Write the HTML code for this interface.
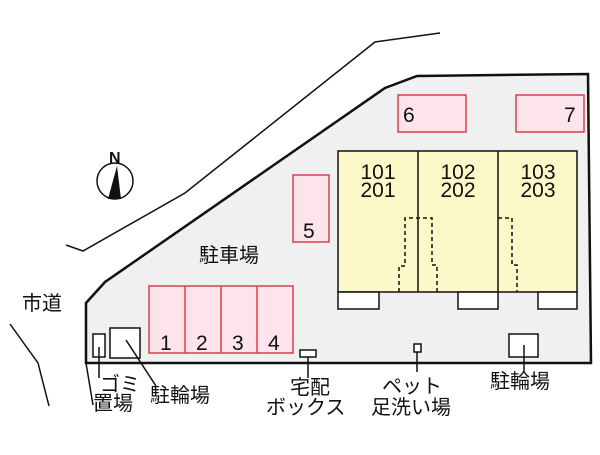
<!DOCTYPE html>
<html><head><meta charset="utf-8"><style>
body{margin:0;background:#fff}
svg text{font-family:"Liberation Sans","Noto Sans CJK JP",sans-serif;fill:#111}
</style></head><body>
<svg width="600" height="450" viewBox="0 0 600 450" xmlns="http://www.w3.org/2000/svg">
<polygon points="86,303 105,282 385,88 417,76 588,74 591,363 86,363" fill="#f0f0f0" stroke="#111" stroke-width="2.5"/>
<polyline points="66,245 83,251 185,193 375,42 440,33" fill="none" stroke="#111" stroke-width="1.5"/>
<polyline points="10,324 38,363 49,406" fill="none" stroke="#111" stroke-width="1.5"/>
<line x1="86" y1="363" x2="93" y2="405" stroke="#111" stroke-width="1.5"/>
<g fill="#fde3ec" stroke="#d8404c" stroke-width="1.5">
<rect x="149" y="286" width="144" height="67"/>
<line x1="185" y1="286" x2="185" y2="353"/><line x1="221" y1="286" x2="221" y2="353"/><line x1="257" y1="286" x2="257" y2="353"/>
<rect x="293" y="175" width="36" height="67"/>
<rect x="398" y="95" width="68" height="37"/>
<rect x="516" y="95" width="68" height="37"/>
</g>
<g font-size="21">
<text x="160" y="350">1</text><text x="196" y="350">2</text><text x="232" y="350">3</text><text x="268" y="350">4</text>
<text x="303" y="238">5</text><text x="403" y="122">6</text><text x="564" y="122">7</text>
</g>
<rect x="338" y="151" width="239" height="141" fill="#fdf8c8" stroke="#111" stroke-width="1.5"/>
<line x1="418" y1="151" x2="418" y2="292" stroke="#111" stroke-width="1.5"/>
<line x1="498" y1="151" x2="498" y2="292" stroke="#111" stroke-width="1.5"/>
<g fill="#fff" stroke="#111" stroke-width="1.5">
<rect x="338" y="292" width="41" height="17"/><rect x="458" y="292" width="40" height="17"/><rect x="538" y="292" width="39" height="17"/>
</g>
<g fill="none" stroke="#111" stroke-width="1.5" stroke-dasharray="4,3">
<polyline points="399,292 399,266 405,266 405,218 432,218 432,265 437,265 437,292"/>
<polyline points="498,218 512,218 512,265 517,265 517,292"/>
</g>
<g font-size="21" text-anchor="middle">
<text x="378" y="179">101</text><text x="378" y="197">201</text>
<text x="458" y="179">102</text><text x="458" y="197">202</text>
<text x="538" y="179">103</text><text x="538" y="197">203</text>
</g>
<g fill="#fff" stroke="#111" stroke-width="1.5">
<rect x="93" y="334" width="12" height="23"/>
<rect x="110" y="328" width="30" height="30"/>
<rect x="300" y="350" width="16" height="7"/>
<rect x="414" y="344" width="7" height="8"/>
<rect x="509" y="334" width="29" height="23"/>
</g>
<g stroke="#111" stroke-width="1.5">
<line x1="99" y1="347" x2="99" y2="378"/>
<line x1="126" y1="340" x2="156" y2="386"/>
<line x1="308" y1="357" x2="308" y2="378"/>
<line x1="417" y1="352" x2="417" y2="372"/>
<line x1="524" y1="345" x2="524" y2="372"/>
</g>
<circle cx="115" cy="181" r="18" fill="#fff" stroke="#111" stroke-width="1.5"/>
<polygon points="117,166 108,199 121,199" fill="#111"/>
<text x="109" y="163" font-size="16" font-weight="bold">N</text>
<g font-size="20">
<text x="199" y="262">駐車場</text>
<text x="22" y="310">市道</text>
<text x="100" y="391">ゴミ</text>
<text x="93" y="410">置場</text>
<text x="150" y="402">駐輪場</text>
<text x="290" y="394">宅配</text>
<text x="266" y="414">ボックス</text>
<text x="382" y="393">ペット</text>
<text x="371" y="414">足洗い場</text>
<text x="490" y="388">駐輪場</text>
</g>
</svg>
</body></html>
